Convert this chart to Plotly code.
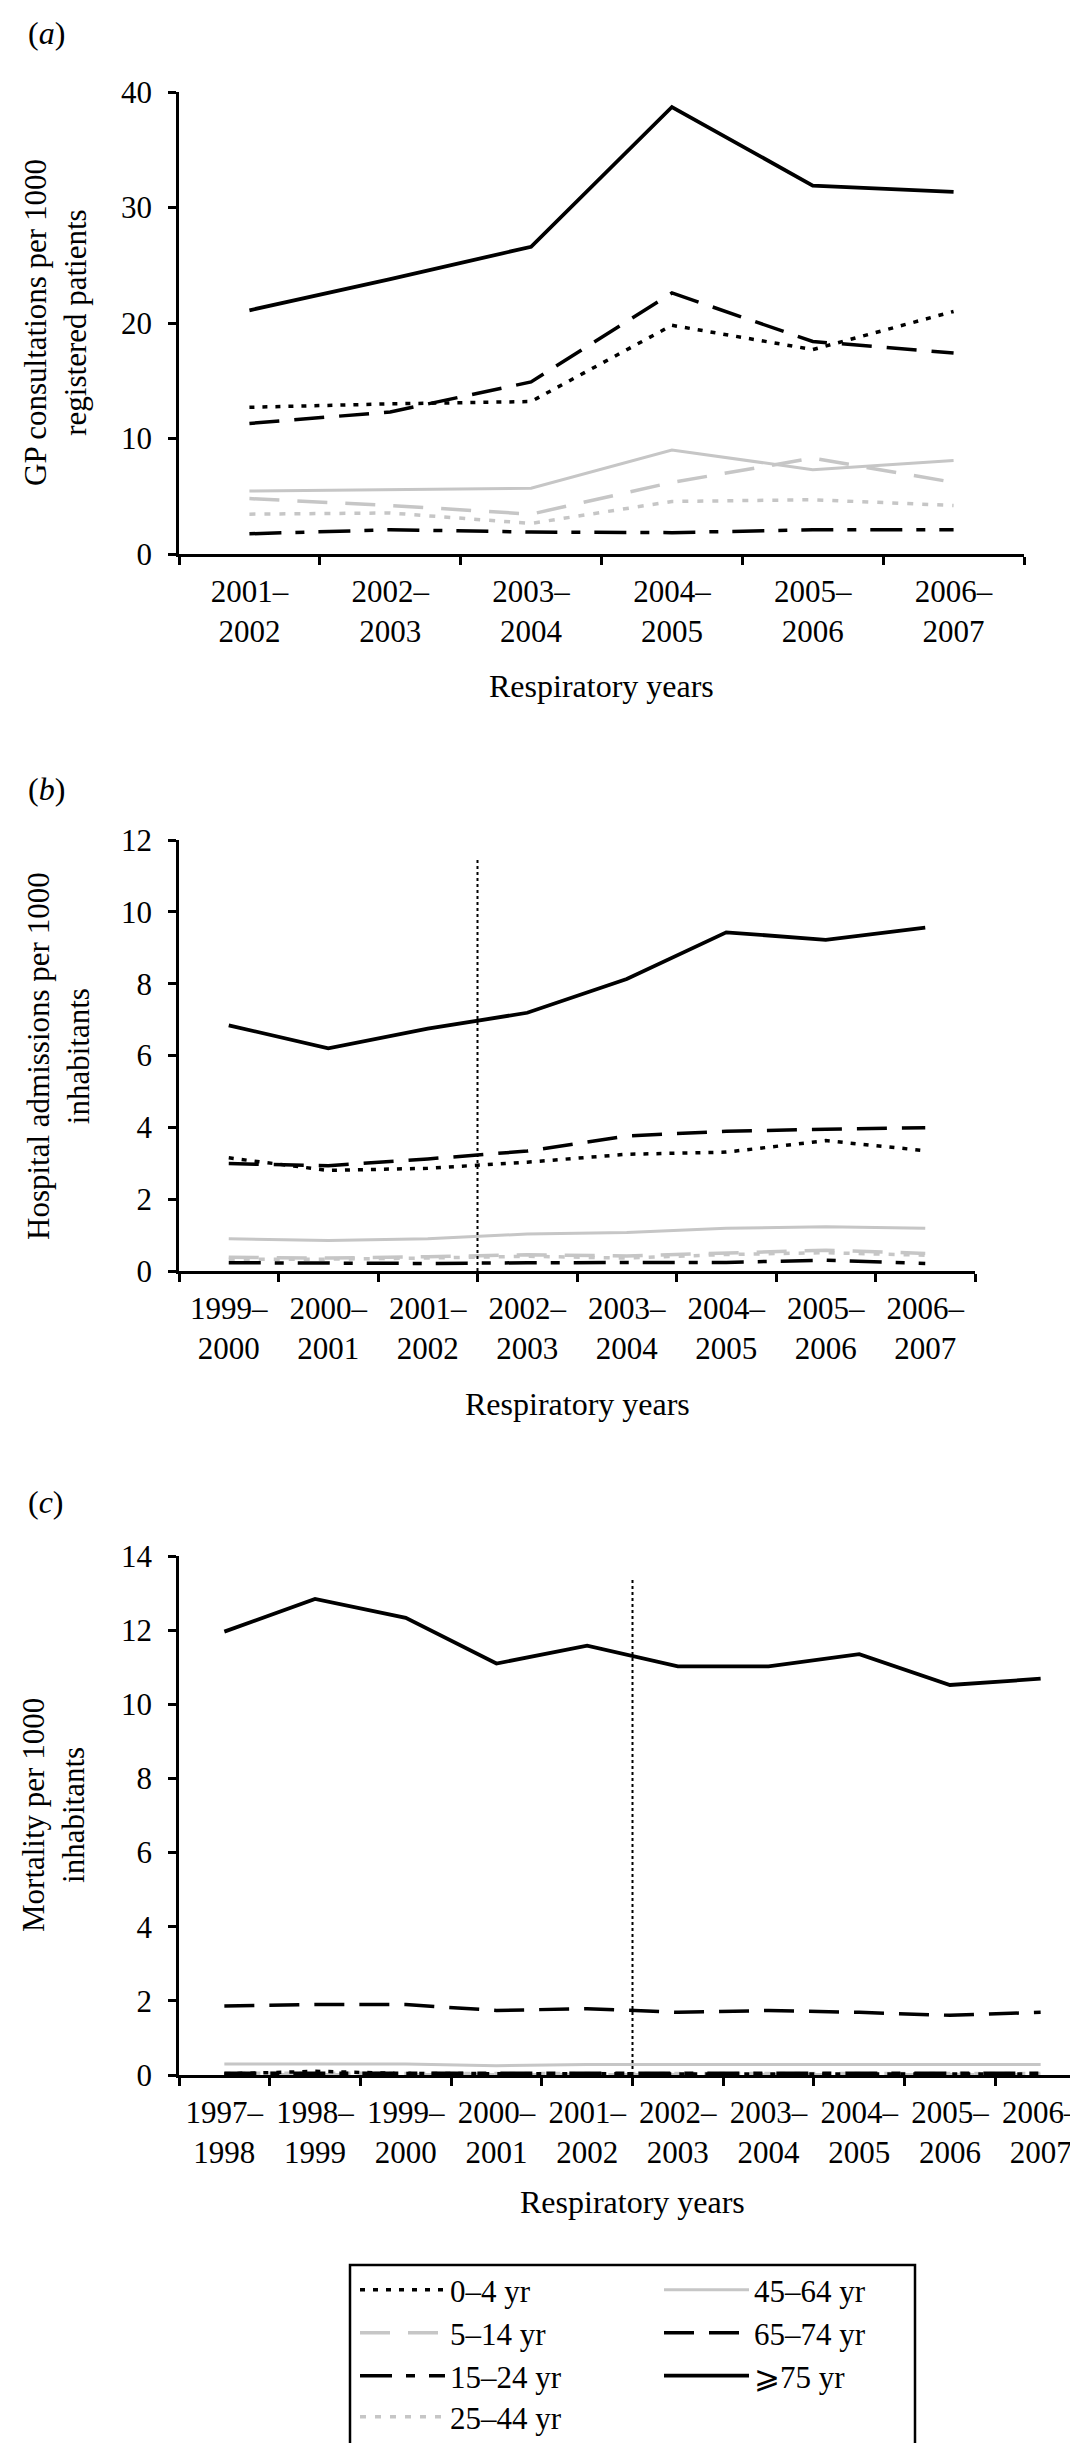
import plotly.graph_objects as go

# ---------------- data ----------------
series_names = ["0–4 yr", "5–14 yr", "15–24 yr", "25–44 yr", "45–64 yr", "65–74 yr", "⩾75 yr"]

a_years = ["2001–2002", "2002–2003", "2003–2004", "2004–2005", "2005–2006", "2006–2007"]
a_0_4 = [12.7, 13.0, 13.2, 19.8, 17.7, 21.0]
a_5_14 = [4.8, 4.2, 3.45, 6.2, 8.3, 6.2]
a_15_24 = [1.75, 2.1, 1.9, 1.85, 2.1, 2.1]
a_25_44 = [3.45, 3.55, 2.65, 4.55, 4.7, 4.2]
a_45_64 = [5.45, 5.6, 5.7, 9.0, 7.3, 8.1]
a_65_74 = [11.3, 12.3, 14.9, 22.6, 18.4, 17.4]
a_75 = [21.1, 23.8, 26.6, 38.7, 31.9, 31.35]

b_years = ["1999–2000", "2000–2001", "2001–2002", "2002–2003", "2003–2004",
           "2004–2005", "2005–2006", "2006–2007"]
b_0_4 = [3.15, 2.8, 2.86, 3.03, 3.25, 3.31, 3.63, 3.35]
b_5_14 = [0.38, 0.36, 0.40, 0.45, 0.42, 0.51, 0.58, 0.49]
b_15_24 = [0.23, 0.21, 0.21, 0.23, 0.23, 0.24, 0.30, 0.21]
b_25_44 = [0.33, 0.33, 0.36, 0.41, 0.36, 0.46, 0.51, 0.44]
b_45_64 = [0.90, 0.85, 0.90, 1.03, 1.07, 1.19, 1.23, 1.19]
b_65_74 = [2.99, 2.93, 3.12, 3.34, 3.76, 3.89, 3.95, 3.99]
b_75 = [6.84, 6.2, 6.75, 7.19, 8.13, 9.43, 9.22, 9.56]
b_break_pos = 2.5      # change of data source between 2001-02 and 2002-03
b_break_top = 11.5

c_years = ["1997–1998", "1998–1999", "1999–2000", "2000–2001", "2001–2002",
           "2002–2003", "2003–2004", "2004–2005", "2005–2006", "2006–2007"]
c_0_4 = [0.03, 0.10, 0.04, 0.03, 0.03, 0.03, 0.03, 0.03, 0.03, 0.03]
c_5_14 = [0.01, 0.01, 0.01, 0.01, 0.01, 0.01, 0.01, 0.01, 0.01, 0.01]
c_15_24 = [0.05, 0.06, 0.05, 0.05, 0.05, 0.05, 0.05, 0.05, 0.05, 0.05]
c_25_44 = [0.05, 0.04, 0.05, 0.04, 0.04, 0.04, 0.04, 0.04, 0.04, 0.04]
c_45_64 = [0.30, 0.30, 0.30, 0.25, 0.28, 0.28, 0.28, 0.28, 0.28, 0.28]
c_65_74 = [1.86, 1.90, 1.90, 1.74, 1.79, 1.69, 1.74, 1.69, 1.61, 1.69]
c_75 = [11.96, 12.84, 12.33, 11.10, 11.58, 11.02, 11.02, 11.35, 10.52, 10.69]
c_break_pos = 4.5
c_break_top = 13.4

y_titles = ["GP consultations per 1000<br>registered patients",
            "Hospital admissions per 1000<br>inhabitants",
            "Mortality per 1000<br>inhabitants"]
x_title = "Respiratory years"
panel_labels = ["(<i>a</i>)", "(<i>b</i>)", "(<i>c</i>)"]
y_ranges = [[0, 40], [0, 12], [0, 14]]
y_dticks = [10, 2, 2]

# ---------------- styles ----------------
FONT = "Liberation Serif, Times New Roman, serif"
BLACK = "#000000"
GREY = "#c6c6c6"
styles = {
    "0–4 yr": dict(color=BLACK, width=3.5, dash="5px,8px"),
    "5–14 yr": dict(color=GREY, width=3.5, dash="30px,18px"),
    "15–24 yr": dict(color=BLACK, width=3.5, dash="32px,14px,9px,14px"),
    "25–44 yr": dict(color=GREY, width=3.5, dash="6px,9px"),
    "45–64 yr": dict(color=GREY, width=3),
    "65–74 yr": dict(color=BLACK, width=3.5, dash="30px,15px"),
    "⩾75 yr": dict(color=BLACK, width=3.8),
}
draw_order = ["45–64 yr", "5–14 yr", "25–44 yr", "15–24 yr", "0–4 yr", "65–74 yr", "⩾75 yr"]
# legend grid: (column x in px, row centre y in px)
legend_cells = {
    "0–4 yr": (347, 2282), "5–14 yr": (347, 2325), "15–24 yr": (347, 2368), "25–44 yr": (347, 2409),
    "45–64 yr": (651, 2282), "65–74 yr": (651, 2325), "⩾75 yr": (651, 2368),
}

W, H = 1078, 2443
def px(xp):
    return xp / W
def py(yp):
    return 1 - yp / H

panels = [
    dict(years=a_years, data=dict(zip(series_names, [a_0_4, a_5_14, a_15_24, a_25_44, a_45_64, a_65_74, a_75])),
         xdom=[px(171), px(1016)], ydom=[py(546), py(84)]),
    dict(years=b_years, data=dict(zip(series_names, [b_0_4, b_5_14, b_15_24, b_25_44, b_45_64, b_65_74, b_75])),
         xdom=[px(171), px(967)], ydom=[py(1263), py(832)]),
    dict(years=c_years, data=dict(zip(series_names, [c_0_4, c_5_14, c_15_24, c_25_44, c_45_64, c_65_74, c_75])),
         xdom=[px(171), 1.0], ydom=[py(2067), py(1548)]),
]

legend_ids = {name: ("legend" if k == 0 else f"legend{k + 1}") for k, name in enumerate(series_names)}

fig = go.Figure()
layout = dict(
    width=W, height=H,
    margin=dict(l=0, r=0, t=0, b=0),
    paper_bgcolor="white", plot_bgcolor="white",
    font=dict(family=FONT, size=31, color=BLACK),
    showlegend=True,
)

for i, p in enumerate(panels):
    n = i + 1
    xa = "x" if n == 1 else f"x{n}"
    ya = "y" if n == 1 else f"y{n}"
    for name in draw_order:
        fig.add_trace(go.Scatter(
            x=p["years"], y=p["data"][name], mode="lines", name=name,
            line=styles[name], xaxis=xa, yaxis=ya,
            showlegend=(n == 1),
            legend=legend_ids[name],
        ))
    ticktext = [y.replace("–", "–<br>") for y in p["years"]]
    layout["xaxis" if n == 1 else f"xaxis{n}"] = dict(
        domain=p["xdom"], anchor=ya, type="category",
        categoryorder="array", categoryarray=p["years"],
        range=[-0.5, len(p["years"]) - 0.5],
        tickvals=p["years"], ticktext=ticktext, tickson="boundaries",
        ticks="outside", ticklen=8, tickwidth=2.5, tickcolor=BLACK,
        showline=True, linewidth=2.5, linecolor=BLACK,
        showgrid=False, zeroline=False, automargin=False,
        ticklabelstandoff=8, tickfont=dict(family=FONT, size=31),
    )
    layout["yaxis" if n == 1 else f"yaxis{n}"] = dict(
        domain=p["ydom"], anchor=xa, range=y_ranges[i], dtick=y_dticks[i],
        ticks="outside", ticklen=8, tickwidth=2.5, tickcolor=BLACK,
        showline=True, linewidth=2.5, linecolor=BLACK,
        showgrid=False, zeroline=False, automargin=False,
        ticklabelstandoff=10, tickfont=dict(family=FONT, size=31),
    )

# break lines (change of data source) in panels b and c
fig.add_shape(type="line", xref="x2", yref="y2", x0=b_break_pos, x1=b_break_pos, y0=0, y1=b_break_top,
              line=dict(color=BLACK, width=2, dash="dot"))
fig.add_shape(type="line", xref="x3", yref="y3", x0=c_break_pos, x1=c_break_pos, y0=0, y1=c_break_top,
              line=dict(color=BLACK, width=2, dash="dot"))

annotations = []
ytitle_pos = [(48, 315), (50, 1048), (45, 1807)]
xtitle_pos = [(594, 678), (569, 1396), (624, 2194)]
label_pos = [(38, 25), (38, 781), (38, 1494)]
for i in range(3):
    annotations.append(dict(text=y_titles[i], textangle=-90, xref="paper", yref="paper",
                            x=px(ytitle_pos[i][0]), y=py(ytitle_pos[i][1]),
                            xanchor="center", yanchor="middle", showarrow=False,
                            font=dict(family=FONT, size=31)))
    annotations.append(dict(text=x_title, xref="paper", yref="paper",
                            x=px(xtitle_pos[i][0]), y=py(xtitle_pos[i][1]),
                            xanchor="center", yanchor="middle", showarrow=False,
                            font=dict(family=FONT, size=32)))
    annotations.append(dict(text=panel_labels[i], xref="paper", yref="paper",
                            x=px(label_pos[i][0]), y=py(label_pos[i][1]),
                            xanchor="center", yanchor="middle", showarrow=False,
                            font=dict(family=FONT, size=32)))
layout["annotations"] = annotations

# legend frame
layout["shapes"] = list(fig.layout.shapes) + [dict(type="rect", xref="paper", yref="paper",
                         x0=px(342), x1=px(907), y0=py(2441), y1=py(2257),
                         line=dict(color=BLACK, width=2.5), fillcolor="rgba(0,0,0,0)")]

for name in series_names:
    cx, cy = legend_cells[name]
    layout[legend_ids[name]] = dict(
        orientation="v", xanchor="left", yanchor="middle",
        x=px(cx), y=py(cy),
        bgcolor="rgba(0,0,0,0)", borderwidth=0,
        font=dict(family=FONT, size=31), itemwidth=85,
    )

fig.update_layout(**layout)
fig.write_html("out.html")
